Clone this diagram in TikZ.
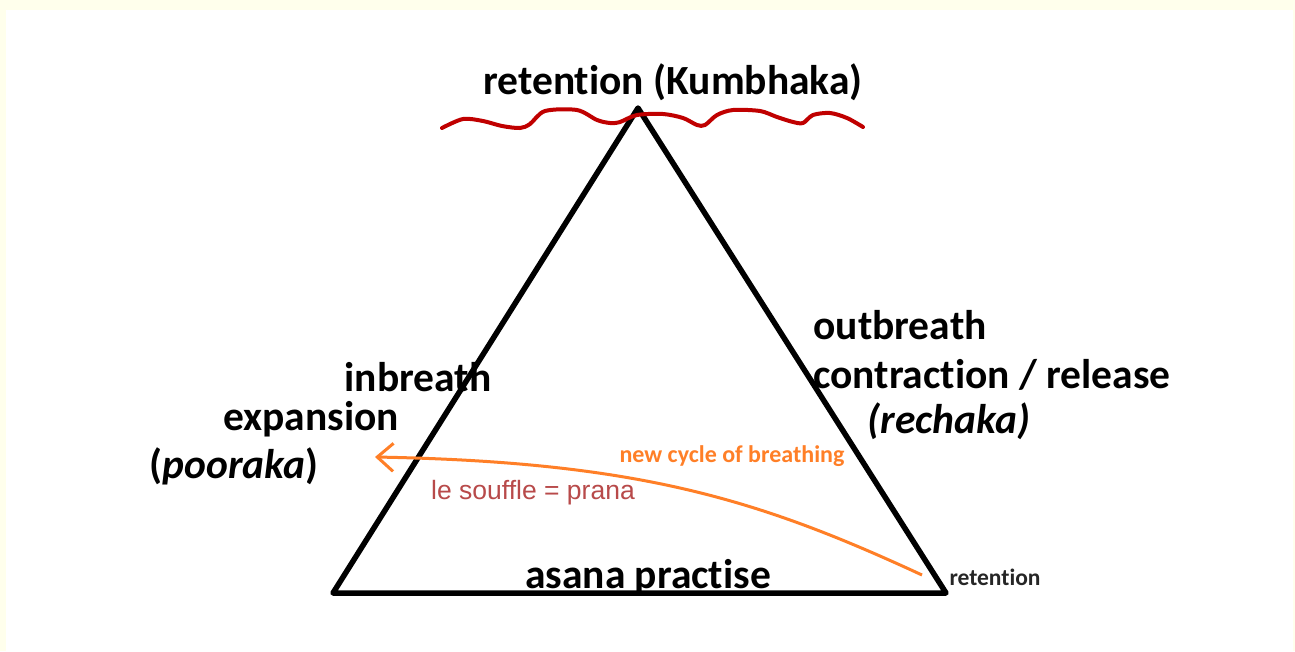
\documentclass[tikz,border=0pt]{standalone}
\usepackage{fontspec}
\setmainfont{Carlito}[Ligatures=NoCommon]
\newfontfamily\arialfont{Liberation Sans}
\usetikzlibrary{arrows.meta}
\definecolor{cream}{RGB}{255,255,236}
\definecolor{wavered}{RGB}{192,0,0}
\definecolor{breathorange}{RGB}{255,127,39}
\definecolor{pranared}{RGB}{184,74,74}
\tikzset{
	label/.style={font=\fontsize{41.5}{48}\selectfont\bfseries, inner sep=0pt},
	small/.style={font=\fontsize{24}{28}\selectfont\bfseries, inner sep=0pt},
}

\begin{document}
\begin{tikzpicture}[x=1pt, y=-1pt]
		%%%%% START %%%%%
		\fill[cream] (0, 0) rectangle (1295, 651);
		\fill[white] (6, 10) rectangle (1293, 651);
		\useasboundingbox (0, 0) rectangle (1295, 651);
		
		\draw[line width=5.5pt, line join=round] (638, 108) -- (333, 593) -- (946, 593) -- cycle;
		
		\draw[wavered, line width=4pt, line cap=round, line join=round] plot[smooth, tension=0.5] coordinates {
			(442,128) (463,119) (483,121) (502,126) (520,128) (530,124) (545,111)
			(577,110) (597,120) (610,123) (620,122) (637,115) (663,114) (683,118)
			(697,125) (705,125) (717,115) (733,110) (760,111) (777,117) (793,122)
			(803,123) (813,115) (830,113) (847,118) (863,127)};
		
		\node[label] (kumbhaka) at (673, 82) {retention (Kumbhaka)};
		\node[label] (inbreath) at (418, 377) {inbreath};
		\node[label] (expansion) at (311, 419) {expansion};
		\node[label] (pooraka) at (234, 466) {(\textit{pooraka})};
		\node[label] (outbreath) at (900, 325) {outbreath};
		\node[label] (contraction) at (992, 375) {contraction / release};
		\node[label] (rechaka) at (949, 421) {\textit{(rechaka)}};
		\node[label] (asana) at (648, 577) {asana practise};
		\node[small, breathorange] (cycle) at (732, 456) {new cycle of breathing};
		\node[font=\arialfont\fontsize{26.5}{30}\selectfont, text=pranared, inner sep=0pt] (prana) at (533, 493) {le souffle = prana};
		\node[font=\fontsize{23.5}{27}\selectfont\bfseries, text=black!85, inner sep=0pt] (retention) at (995, 577) {retention};
		
		\coordinate (start) at (922, 575);
		\coordinate (tip) at (375, 457);
		\draw[breathorange, line width=3pt, -{Straight Barb[length=16pt, width=28pt]}]
			(start) .. controls (760, 500) and (640, 462) .. (tip);
		%%%%% END %%%%%
\end{tikzpicture}
\end{document}
